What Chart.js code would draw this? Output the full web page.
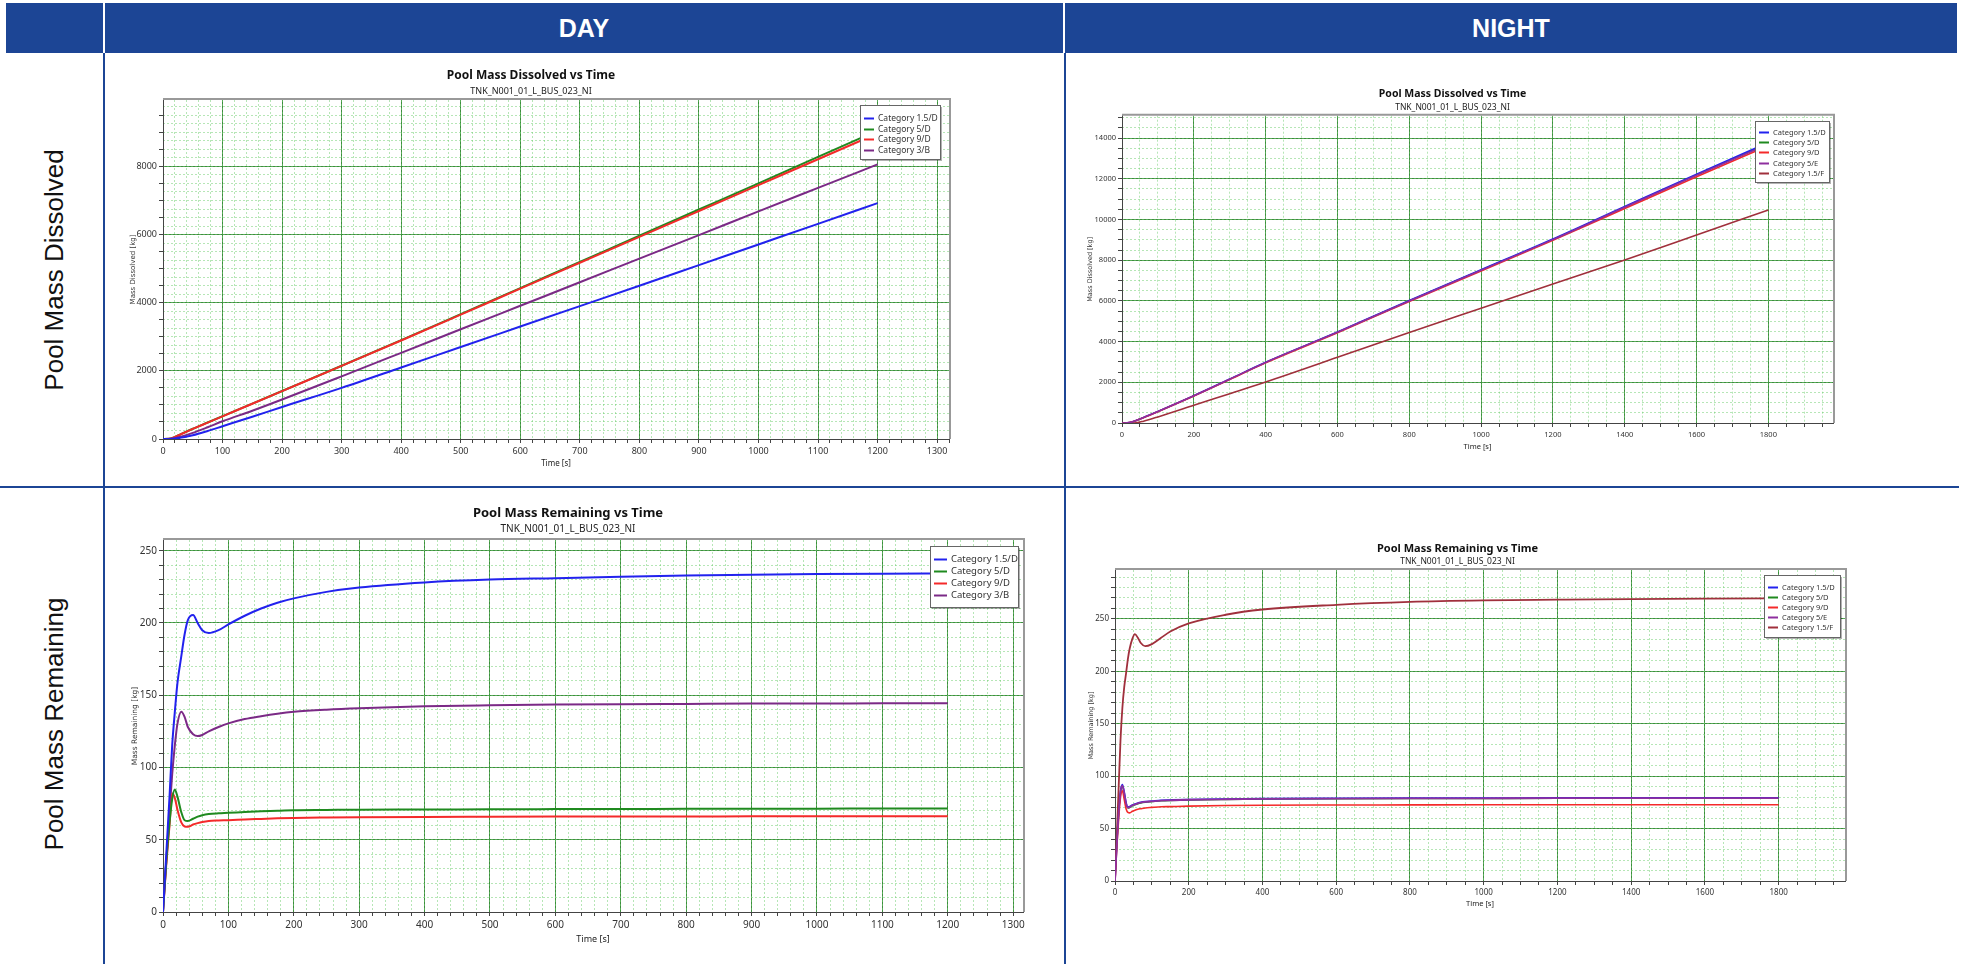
<!DOCTYPE html>
<html>
<head>
<meta charset="utf-8">
<script src="https://cdn.jsdelivr.net/npm/chart.js@4.4.1/dist/chart.umd.min.js"></script>
<style>
body { margin: 0; width: 1969px; height: 964px; background: #fff; position: relative; overflow: hidden; font-family: 'Liberation Sans', Arial, sans-serif; }
#header { position: absolute; left: 6px; top: 3px; width: 1951px; height: 50px; background: #1c4595; }
.head { position: absolute; top: 3px; height: 50px; line-height: 50px; color: #fff; font-weight: bold; font-size: 25px; text-align: center; }
.sep { position: absolute; top: 3px; width: 2px; height: 50px; background: #fff; }
.line { position: absolute; background: #1c4595; }
.rowlabel { position: absolute; width: 420px; height: 30px; line-height: 30px; font-size: 26px; color: #111; text-align: center; transform: rotate(-90deg); white-space: nowrap; }
canvas { position: absolute; }
</style>
</head>
<body>
<div id="header"></div>
<div class="sep" style="left:103px"></div>
<div class="sep" style="left:1063px"></div>
<div class="head" style="left:105px;width:958px">DAY</div>
<div class="head" style="left:1065px;width:892px">NIGHT</div>
<div class="line" style="left:103px;top:53px;width:2px;height:911px"></div>
<div class="line" style="left:1064px;top:53px;width:2px;height:911px"></div>
<div class="line" style="left:0;top:486px;width:1959px;height:2px"></div>
<div class="rowlabel" style="left:-156px;top:255px">Pool Mass Dissolved</div>
<div class="rowlabel" style="left:-156px;top:709px">Pool Mass Remaining</div>

<script>
// ---- data ----
const subtitleText = 'TNK_N001_01_L_BUS_023_NI';

// Day - dissolved [kg]
const dayDissTime = [0, 10, 20, 30, 50, 75, 100, 150, 200, 300, 400, 500, 600, 700, 800, 900, 1000, 1100, 1200];
const dayDiss15D = [0, 1, 12, 40, 110, 235, 375, 655, 940, 1500, 2098, 2700, 3300, 3900, 4500, 5105, 5710, 6315, 6922];
const dayDiss5D  = [0, 5, 62, 144, 300, 485, 670, 1040, 1410, 2150, 2900, 3665, 4430, 5200, 5965, 6735, 7505, 8280, 9050];
const dayDiss9D  = [0, 5, 60, 140, 295, 480, 665, 1035, 1405, 2145, 2892, 3650, 4412, 5172, 5932, 6692, 7452, 8212, 8970];
const dayDiss3B  = [0, 3, 25, 70, 180, 345, 520, 830, 1160, 1840, 2529, 3220, 3910, 4600, 5295, 5985, 6680, 7370, 8059];

// Night - dissolved [kg]
const nightDissTime = [0, 20, 40, 60, 100, 200, 300, 400, 600, 800, 1000, 1200, 1400, 1600, 1800];
const nightDiss15D = [0, 20, 130, 270, 570, 1344, 2160, 2984, 4470, 6020, 7530, 9040, 10640, 12230, 13780];
const nightDiss5D  = [0, 20, 128, 268, 566, 1338, 2152, 2975, 4460, 6005, 7515, 9020, 10615, 12200, 13740];
const nightDiss9D  = [0, 18, 122, 260, 556, 1325, 2135, 2955, 4435, 5975, 7470, 8975, 10540, 12100, 13620];
const nightDiss5E  = [0, 19, 126, 266, 563, 1336, 2150, 2972, 4455, 6000, 7505, 9010, 10600, 12170, 13700];
const nightDiss15F = [0, 0, 10, 90, 300, 869, 1440, 2010, 3225, 4449, 5640, 6830, 8014, 9240, 10468];

// Day - remaining [kg]
const dayRemTime = [0, 5, 10, 14, 18, 22, 28, 33, 38, 46, 53, 60, 70, 85, 100, 125, 150, 175, 200, 250, 300, 400, 500, 600, 700, 800, 900, 1000, 1100, 1200];
const dayRem15D = [0, 40, 80, 115, 138, 158, 177, 192, 202, 205.5, 200, 195, 193, 195, 199, 205, 210, 214, 217, 221.5, 224.5, 228, 230, 231, 232, 232.8, 233.3, 233.8, 234.1, 234.3];
const dayRem5D  = [0, 35, 62, 78, 84.7, 80, 69, 63.5, 63, 64.5, 66, 67, 67.8, 68.3, 68.6, 69.2, 69.7, 70, 70.4, 70.6, 70.8, 70.9, 71.1, 71.2, 71.3, 71.4, 71.5, 71.5, 71.6, 71.6];
const dayRem9D  = [0, 33, 60, 82, 79, 71, 62, 59.2, 59, 60.5, 61.5, 62.3, 63, 63.3, 63.5, 64, 64.4, 64.8, 65.1, 65.4, 65.6, 65.8, 65.9, 66, 66.1, 66.1, 66.2, 66.2, 66.3, 66.3];
const dayRem3B  = [0, 35, 70, 95, 115, 130, 138.5, 135, 128, 123, 121.7, 122.5, 125, 128, 130.5, 133.5, 135.5, 137.2, 138.5, 140, 141, 142.3, 143, 143.5, 143.8, 144, 144.2, 144.3, 144.4, 144.5];

// Night - remaining [kg]
const nightRemTime = [0, 5, 10, 15, 20, 25, 30, 35, 40, 47, 54, 62, 70, 82, 100, 125, 150, 200, 300, 400, 600, 800, 1000, 1200, 1400, 1600, 1800];
const nightRem15D = [0, 36, 66, 86, 92, 85, 75, 70.5, 71, 72.5, 73.5, 74.5, 75.2, 75.8, 76.3, 77, 77.3, 77.8, 78.3, 78.6, 78.9, 79.1, 79.2, 79.3, 79.3, 79.4, 79.4];
const nightRem5D  = [0, 35, 64, 84, 90, 83, 73.5, 69.5, 70, 71.5, 72.5, 73.5, 74.3, 75, 75.6, 76.3, 76.7, 77.2, 77.7, 78, 78.3, 78.5, 78.6, 78.7, 78.7, 78.8, 78.8];
const nightRem9D  = [0, 33, 60, 80, 86, 78, 69, 65.5, 65, 66.5, 67.5, 68.5, 69, 69.7, 70.2, 70.8, 71, 71.4, 72, 72.3, 72.5, 72.6, 72.7, 72.7, 72.8, 72.8, 72.8];
const nightRem5E  = [0, 35, 65, 85, 91, 84, 74, 70, 70.5, 72, 73, 74, 74.8, 75.5, 76, 76.7, 77, 77.5, 78, 78.3, 78.6, 78.8, 78.9, 79, 79, 79.1, 79.1];
const nightRem15F = [0, 45, 90, 135, 165, 185, 198, 212, 222, 231, 235.5, 232, 227, 224, 226, 232, 238, 245.7, 254, 259, 263.5, 266.3, 267.7, 268.4, 269, 269.4, 269.7];

// ---- styling ----
const FONT = "'Segoe UI', 'Noto Sans', 'Open Sans', sans-serif";
const AXIS_FONT = "'DejaVu Sans', Verdana, sans-serif";
const GRID_MAJOR = '#3f8c3f';
const GRID_MINOR = 'rgba(110, 205, 110, 0.5)';
const C_BLUE = '#2222ee';
const C_GREEN = '#1f8a1f';
const C_RED = '#f42a2a';
const C_PURPLE = '#7b2a86';
const C_MAGENTA = '#8e2f9e';
const C_BROWN = '#a0303c';

// order: lower number is drawn on top
function lineSet(label, times, vals, color, width, order) {
    return {
        label: label,
        data: times.map((t, i) => ({ x: t, y: vals[i] })),
        borderColor: color,
        backgroundColor: color,
        borderWidth: width,
        pointRadius: 0,
        cubicInterpolationMode: 'monotone',
        fill: false,
        order: order || 0,
        xAxisID: 'x',
        yAxisID: 'y'
    };
}

// plain evenly spaced ticks from 0 (chart.js would stretch the step to fit max otherwise)
function evenTicks(step, max) {
    return s => {
        const t = [];
        for (let i = 0; i * step <= max; i++) t.push({ value: i * step });
        s.ticks = t;
    };
}

// frame + legend box drawn inside the plot, top right
const boxPlugin = {
    id: 'legendBox',
    afterDraw(chart, args, opts) {
        const { ctx, chartArea } = chart;
        ctx.save();
        ctx.strokeStyle = '#999';
        ctx.lineWidth = 2;
        ctx.beginPath();
        ctx.moveTo(chartArea.left, chartArea.top - 1);
        ctx.lineTo(chartArea.right + 1, chartArea.top - 1);
        ctx.lineTo(chartArea.right + 1, chartArea.bottom);
        ctx.stroke();

        const w = opts.width, h = opts.height;
        const x = Math.round(chartArea.right - opts.right - w);
        const y = Math.round(chartArea.top + opts.top);
        ctx.fillStyle = 'rgba(0,0,0,0.3)';
        ctx.fillRect(x + 2, y + 2, w, h);
        ctx.fillStyle = '#fff';
        ctx.fillRect(x, y, w, h);
        ctx.strokeStyle = '#666';
        ctx.lineWidth = 1;
        ctx.strokeRect(x + 0.5, y + 0.5, w, h);
        ctx.font = opts.fontSize + 'px ' + FONT;
        ctx.textBaseline = 'middle';
        chart.data.datasets.forEach((ds, i) => {
            const cy = Math.round(y + opts.first + i * opts.step) + 0.5;
            ctx.strokeStyle = ds.borderColor;
            ctx.lineWidth = 2;
            ctx.beginPath();
            ctx.moveTo(x + 4, cy);
            ctx.lineTo(x + opts.textX - 4, cy);
            ctx.stroke();
            ctx.fillStyle = '#333';
            ctx.fillText(ds.label, x + opts.textX, cy);
        });
        ctx.restore();
    }
};

function makeChart(p) {
    const cv = document.createElement('canvas');
    cv.width = p.w;
    cv.height = p.h;
    cv.style.left = p.left + 'px';
    cv.style.top = p.top + 'px';
    document.body.appendChild(cv);

    const tickFont = { family: FONT, size: p.tickSize };
    const axisTitleFont = { family: AXIS_FONT, size: p.axTitleSize };

    return new Chart(cv, {
        type: 'line',
        data: { datasets: p.datasets },
        options: {
            responsive: false,
            animation: false,
            devicePixelRatio: 1,
            layout: { padding: { left: 0, right: p.padRight, top: 0, bottom: 0 } },
            plugins: {
                legend: { display: false },
                tooltip: { enabled: false },
                title: {
                    display: true, text: p.title, color: '#111',
                    font: { family: FONT, size: p.titleSize, weight: 'bold' },
                    padding: { top: p.tPad[0], bottom: p.tPad[1] }
                },
                subtitle: {
                    display: true, text: subtitleText, color: '#222',
                    font: { family: FONT, size: p.subSize },
                    padding: { top: 0, bottom: p.tPad[2] }
                },
                legendBox: p.legend
            },
            scales: {
                x: {
                    type: 'linear', position: 'bottom', min: 0, max: p.xMax,
                    afterBuildTicks: evenTicks(p.xTick, p.xMax),
                    ticks: {
                        autoSkip: false, maxRotation: 0,
                        padding: 3, color: '#333', font: tickFont,
                        callback: v => (v % p.xMajor === 0 ? v : '')
                    },
                    grid: {
                        color: c => (c.tick && c.tick.value % p.xMajor === 0 ? GRID_MAJOR : 'rgba(0,0,0,0)'),
                        tickColor: '#444', tickLength: 4
                    },
                    border: { display: true, color: '#444', width: 1 },
                    title: {
                        display: true, text: 'Time [s]', color: '#222', font: { family: FONT, size: p.xTitleSize },
                        padding: { top: 0, bottom: p.xTitlePad }
                    },
                    afterFit: s => { s.height = p.xH; }
                },
                y: {
                    type: 'linear', position: 'left', min: 0, max: p.yMax,
                    afterBuildTicks: evenTicks(p.yTick, p.yMax),
                    ticks: {
                        autoSkip: false,
                        padding: 2, color: '#333', font: tickFont,
                        callback: v => (v % p.yMajor === 0 ? v : '')
                    },
                    grid: {
                        color: c => (c.tick && c.tick.value % p.yMajor === 0 ? GRID_MAJOR : 'rgba(0,0,0,0)'),
                        tickColor: '#444', tickLength: 4
                    },
                    border: { display: true, color: '#444', width: 1 },
                    title: {
                        display: true, text: p.yTitle, color: '#333', font: axisTitleFont,
                        padding: { top: p.yTitlePad, bottom: 0 }
                    },
                    afterFit: s => { s.width = p.yW; }
                },
                xm: {
                    type: 'linear', position: 'bottom', min: 0, max: p.xMax,
                    afterBuildTicks: evenTicks(p.xFine, p.xMax),
                    ticks: { display: false, autoSkip: false },
                    grid: { color: GRID_MINOR, drawTicks: false, z: -1 },
                    border: { display: false, dash: [2, 2] },
                    afterFit: s => { s.height = 0; }
                },
                ym: {
                    type: 'linear', position: 'left', min: 0, max: p.yMax,
                    afterBuildTicks: evenTicks(p.yFine, p.yMax),
                    ticks: { display: false, autoSkip: false },
                    grid: { color: GRID_MINOR, drawTicks: false, z: -1 },
                    border: { display: false, dash: [2, 2] },
                    afterFit: s => { s.width = 0; }
                }
            }
        },
        plugins: [boxPlugin]
    });
}

// Day - Pool Mass Dissolved
makeChart({
    left: 113, top: 55, w: 851, h: 419, yW: 50, xH: 35, padRight: 15,
    title: 'Pool Mass Dissolved vs Time', titleSize: 12, subSize: 9, tPad: [13.8, 2.4, 3.6],
    tickSize: 9, axTitleSize: 7, xTitleSize: 8, xTitlePad: 5.2, yTitlePad: 16.2,
    yTitle: 'Mass Dissolved [kg]',
    xMax: 1320, xTick: 20, xMajor: 100, xFine: 20,
    yMax: 9950, yTick: 500, yMajor: 2000, yFine: 250,
    legend: { width: 80, height: 54, right: 9, top: 5, first: 13, step: 10.7, textX: 18, fontSize: 8.5 },
    datasets: [
        lineSet('Category 1.5/D', dayDissTime, dayDiss15D, C_BLUE, 2, 0),
        lineSet('Category 5/D', dayDissTime, dayDiss5D, C_GREEN, 2, 2),
        lineSet('Category 9/D', dayDissTime, dayDiss9D, C_RED, 2, 1),
        lineSet('Category 3/B', dayDissTime, dayDiss3B, C_PURPLE, 2, 0)
    ]
});

// Night - Pool Mass Dissolved
makeChart({
    left: 1072, top: 66, w: 776, h: 392, yW: 50, xH: 35, padRight: 15,
    title: 'Pool Mass Dissolved vs Time', titleSize: 10.5, subSize: 8.5, tPad: [21.7, 2.3, 2.9],
    tickSize: 7.5, axTitleSize: 6.5, xTitleSize: 7.5, xTitlePad: 6.5, yTitlePad: 14.8,
    yTitle: 'Mass Dissolved [kg]',
    xMax: 1980, xTick: 50, xMajor: 200, xFine: 50,
    yMax: 15100, yTick: 500, yMajor: 2000, yFine: 500,
    legend: { width: 74, height: 61, right: 4, top: 5, first: 11, step: 10.2, textX: 18, fontSize: 7.5 },
    datasets: [
        lineSet('Category 1.5/D', nightDissTime, nightDiss15D, C_BLUE, 1.6, 2),
        lineSet('Category 5/D', nightDissTime, nightDiss5D, C_GREEN, 1.2, 3),
        lineSet('Category 9/D', nightDissTime, nightDiss9D, C_RED, 1.6, 1),
        lineSet('Category 5/E', nightDissTime, nightDiss5E, C_MAGENTA, 1.6, 0),
        lineSet('Category 1.5/F', nightDissTime, nightDiss15F, C_BROWN, 1.6, 0)
    ]
});

// Day - Pool Mass Remaining
makeChart({
    left: 113, top: 492, w: 925, h: 458, yW: 50, xH: 38, padRight: 15,
    title: 'Pool Mass Remaining vs Time', titleSize: 13, subSize: 10, tPad: [13.2, 2.2, 5],
    tickSize: 10, axTitleSize: 7.5, xTitleSize: 9, xTitlePad: 5.6, yTitlePad: 17.5,
    yTitle: 'Mass Remaining [kg]',
    xMax: 1315, xTick: 20, xMajor: 100, xFine: 20,
    yMax: 257.4, yTick: 10, yMajor: 50, yFine: 10,
    legend: { width: 88, height: 61, right: 5, top: 6, first: 13, step: 12, textX: 21, fontSize: 9.5 },
    datasets: [
        lineSet('Category 1.5/D', dayRemTime, dayRem15D, C_BLUE, 2, 0),
        lineSet('Category 5/D', dayRemTime, dayRem5D, C_GREEN, 2, 0),
        lineSet('Category 9/D', dayRemTime, dayRem9D, C_RED, 2, 0),
        lineSet('Category 3/B', dayRemTime, dayRem3B, C_PURPLE, 2, 0)
    ]
});

// Night - Pool Mass Remaining
makeChart({
    left: 1070, top: 525, w: 790, h: 391, yW: 45, xH: 35, padRight: 15,
    title: 'Pool Mass Remaining vs Time', titleSize: 11, subSize: 8.5, tPad: [17.4, 1.3, 2.9],
    tickSize: 8, axTitleSize: 6.5, xTitleSize: 7.5, xTitlePad: 7.5, yTitlePad: 17.4,
    yTitle: 'Mass Remaining [kg]',
    xMax: 1980, xTick: 50, xMajor: 200, xFine: 50,
    yMax: 296.7, yTick: 10, yMajor: 50, yFine: 10,
    legend: { width: 76, height: 62, right: 5, top: 5, first: 12, step: 10, textX: 18, fontSize: 7.5 },
    datasets: [
        lineSet('Category 1.5/D', nightRemTime, nightRem15D, C_BLUE, 1.6, 2),
        lineSet('Category 5/D', nightRemTime, nightRem5D, C_GREEN, 1.2, 3),
        lineSet('Category 9/D', nightRemTime, nightRem9D, C_RED, 1.6, 1),
        lineSet('Category 5/E', nightRemTime, nightRem5E, C_MAGENTA, 1.8, 0),
        lineSet('Category 1.5/F', nightRemTime, nightRem15F, C_BROWN, 1.8, 0)
    ]
});
</script>
</body>
</html>
